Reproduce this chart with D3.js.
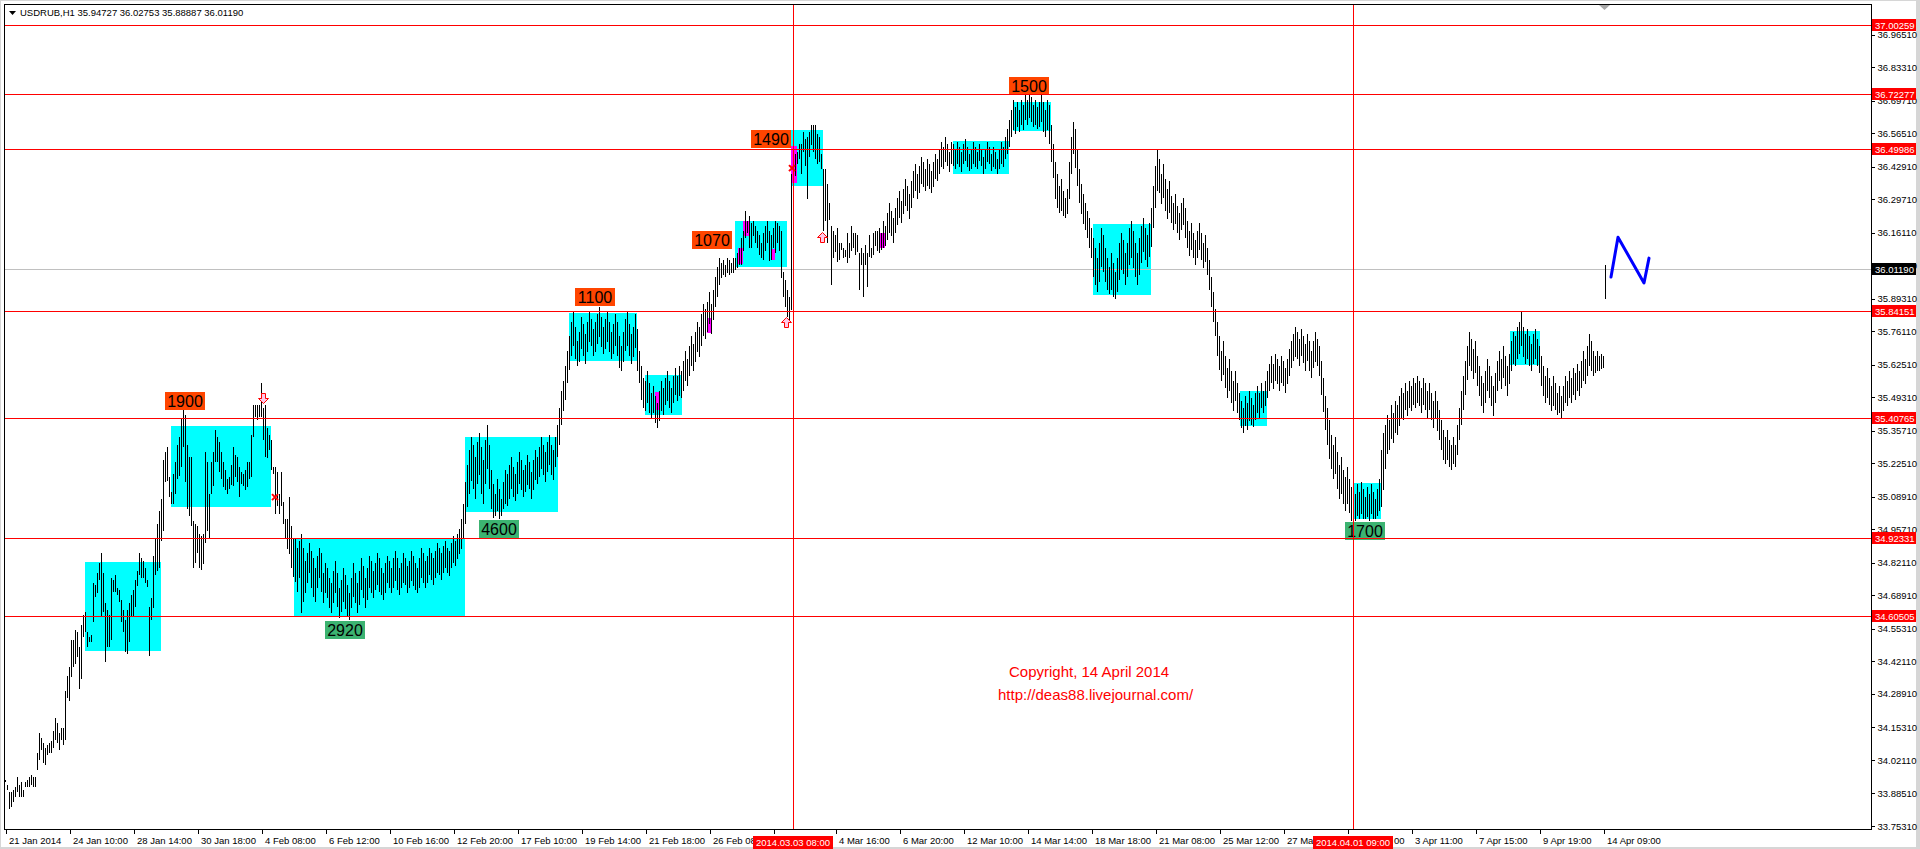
<!DOCTYPE html>
<html><head><meta charset="utf-8">
<script src="https://cdn.jsdelivr.net/npm/d3@7"></script>
<style>
html,body{margin:0;padding:0;background:#fff;overflow:hidden}
svg{display:block;font-family:"Liberation Sans",Arial,sans-serif}
</style></head><body>
<svg id="c" width="1920" height="849"></svg>
<script>
// ---- H1 bars: [high, low] per bar, bar index 0..800 ----
const barHL = [
[33.94,33.93],[33.92,33.90],[33.89,33.82],[33.89,33.83],[33.90,33.85],[33.91,33.87],[33.95,33.89],[33.92,33.87],[33.93,33.87],[33.90,33.87],
[33.93,33.91],[33.94,33.91],[33.95,33.91],[33.96,33.92],[33.95,33.91],[33.95,33.91],[34.05,33.98],[34.13,34.02],[34.11,34.06],[34.09,34.01],
[34.07,34.00],[34.08,34.04],[34.09,34.05],[34.10,34.05],[34.14,34.07],[34.19,34.10],[34.17,34.09],[34.13,34.06],[34.15,34.10],[34.15,34.08],
[34.30,34.10],[34.36,34.27],[34.40,34.26],[34.51,34.36],[34.51,34.40],[34.55,34.41],[34.54,34.44],[34.48,34.31],[34.57,34.35],[34.61,34.52],
[34.62,34.54],[34.54,34.48],[34.52,34.50],[34.53,34.50],[34.74,34.58],[34.73,34.68],[34.78,34.70],[34.82,34.75],[34.86,34.60],[34.78,34.62],
[34.66,34.42],[34.63,34.48],[34.61,34.48],[34.76,34.51],[34.75,34.70],[34.77,34.70],[34.72,34.69],[34.71,34.66],[34.67,34.58],[34.63,34.54],
[34.59,34.46],[34.63,34.45],[34.66,34.50],[34.69,34.60],[34.71,34.60],[34.75,34.64],[34.79,34.73],[34.86,34.77],[34.84,34.76],[34.83,34.76],
[34.80,34.74],[34.75,34.72],[34.64,34.44],[34.68,34.59],[34.85,34.64],[34.92,34.77],[34.98,34.79],[35.03,34.80],[35.08,34.91],[35.24,34.95],
[35.27,35.15],[35.29,35.15],[35.17,35.09],[35.11,35.06],[35.18,35.06],[35.23,35.10],[35.30,35.16],[35.33,35.17],[35.41,35.21],[35.44,35.29],
[35.42,35.15],[35.30,35.04],[35.25,35.01],[35.25,34.97],[34.99,34.80],[34.98,34.82],[34.97,34.86],[34.94,34.80],[34.93,34.79],[34.94,34.82],
[35.27,34.90],[35.23,34.95],[35.10,34.92],[35.23,35.10],[35.27,35.13],[35.36,35.23],[35.33,35.23],[35.31,35.19],[35.27,35.16],[35.23,35.13],
[35.20,35.12],[35.16,35.10],[35.17,35.12],[35.22,35.14],[35.29,35.13],[35.26,35.17],[35.25,35.15],[35.21,35.09],[35.19,35.14],[35.18,35.13],
[35.20,35.12],[35.23,35.13],[35.23,35.16],[35.34,35.17],[35.46,35.33],[35.46,35.41],[35.46,35.40],[35.46,35.41],[35.55,35.41],[35.45,35.32],
[35.46,35.25],[35.37,35.25],[35.34,35.28],[35.32,35.20],[35.21,35.18],[35.21,35.02],[35.19,35.05],[35.10,35.02],[35.19,35.05],[35.07,34.98],
[35.00,34.92],[35.00,34.88],[35.09,34.86],[34.97,34.80],[34.92,34.76],[34.92,34.74],[34.88,34.70],[34.91,34.76],[34.94,34.62],[34.88,34.66],
[34.83,34.70],[34.86,34.74],[34.90,34.78],[34.87,34.72],[34.84,34.68],[34.80,34.66],[34.85,34.72],[34.88,34.76],[34.86,34.70],[34.78,34.66],
[34.82,34.70],[34.80,34.68],[34.76,34.64],[34.74,34.62],[34.79,34.66],[34.83,34.70],[34.78,34.64],[34.72,34.60],[34.75,34.62],[34.80,34.66],
[34.77,34.63],[34.73,34.60],[34.70,34.59],[34.76,34.64],[34.82,34.68],[34.78,34.66],[34.74,34.62],[34.79,34.65],[34.84,34.71],[34.81,34.68],
[34.76,34.64],[34.80,34.67],[34.85,34.72],[34.83,34.70],[34.79,34.68],[34.82,34.71],[34.86,34.73],[34.84,34.70],[34.80,34.69],[34.78,34.67],
[34.82,34.70],[34.85,34.74],[34.83,34.72],[34.80,34.70],[34.84,34.72],[34.87,34.75],[34.84,34.71],[34.80,34.69],[34.82,34.72],[34.86,34.74],
[34.84,34.73],[34.81,34.70],[34.83,34.72],[34.87,34.75],[34.85,34.73],[34.82,34.71],[34.80,34.70],[34.84,34.72],[34.88,34.76],[34.86,34.74],
[34.83,34.72],[34.85,34.74],[34.88,34.77],[34.86,34.75],[34.84,34.73],[34.87,34.76],[34.90,34.78],[34.88,34.77],[34.86,34.75],[34.89,34.78],
[34.91,34.80],[34.88,34.78],[34.87,34.77],[34.90,34.80],[34.93,34.82],[34.91,34.81],[34.94,34.84],[34.96,34.86],[35.00,34.88],[35.06,34.92],
[35.15,34.98],[35.22,35.05],[35.28,35.10],[35.33,35.15],[35.30,35.12],[35.25,35.08],[35.31,35.14],[35.35,35.18],[35.29,35.10],[35.24,35.06],
[35.32,35.14],[35.38,35.20],[35.30,35.12],[35.20,35.04],[35.14,35.00],[35.10,35.01],[35.16,35.03],[35.12,35.00],[35.08,35.01],[35.15,35.04],
[35.20,35.06],[35.18,35.05],[35.22,35.08],[35.25,35.12],[35.21,35.09],[35.18,35.07],[35.23,35.10],[35.27,35.14],[35.24,35.12],[35.20,35.09],
[35.22,35.11],[35.26,35.14],[35.23,35.12],[35.19,35.08],[35.24,35.12],[35.28,35.16],[35.25,35.14],[35.29,35.17],[35.33,35.20],[35.30,35.18],
[35.27,35.15],[35.31,35.19],[35.34,35.22],[35.30,35.18],[35.28,35.16],[35.33,35.21],[35.38,35.25],[35.45,35.30],[35.52,35.38],[35.56,35.44],
[35.62,35.48],[35.68,35.55],[35.74,35.60],[35.80,35.66],[35.84,35.70],[35.78,35.65],[35.72,35.62],[35.76,35.64],[35.82,35.69],[35.79,35.66],
[35.75,35.63],[35.80,35.68],[35.84,35.72],[35.81,35.70],[35.77,35.66],[35.80,35.68],[35.83,35.71],[35.86,35.74],[35.82,35.70],[35.78,35.67],
[35.81,35.69],[35.84,35.72],[35.80,35.68],[35.76,35.65],[35.79,35.67],[35.83,35.70],[35.80,35.66],[35.74,35.61],[35.70,35.60],[35.76,35.64],
[35.81,35.68],[35.84,35.70],[35.79,35.66],[35.75,35.63],[35.78,35.66],[35.83,35.69],[35.77,35.60],[35.68,35.55],[35.62,35.48],[35.57,35.45],
[35.56,35.44],[35.60,35.47],[35.55,35.43],[35.51,35.41],[35.54,35.43],[35.50,35.39],[35.47,35.37],[35.52,35.40],[35.56,35.44],[35.53,35.42],
[35.57,35.46],[35.60,35.48],[35.56,35.45],[35.53,35.43],[35.58,35.47],[35.61,35.50],[35.58,35.48],[35.62,35.50],[35.60,35.49],[35.64,35.52],
[35.68,35.56],[35.65,35.54],[35.70,35.58],[35.74,35.62],[35.71,35.60],[35.76,35.64],[35.80,35.68],[35.78,35.66],[35.83,35.70],[35.87,35.74],
[35.85,35.73],[35.88,35.76],[35.92,35.79],[35.87,35.75],[35.93,35.81],[35.98,35.86],[36.02,35.90],[36.06,35.95],[36.04,35.98],[36.05,35.99],
[36.03,35.98],[36.06,36.00],[36.05,35.99],[36.04,36.00],[36.06,36.00],[36.06,36.01],[36.08,36.02],[36.10,36.03],[36.14,36.03],[36.17,36.09],
[36.25,36.14],[36.21,36.16],[36.23,36.10],[36.20,36.10],[36.21,36.15],[36.19,36.12],[36.17,36.10],[36.15,36.07],[36.12,36.06],[36.16,36.05],
[36.19,36.09],[36.21,36.12],[36.17,36.05],[36.15,36.05],[36.18,36.10],[36.21,36.08],[36.20,36.12],[36.19,36.09],[36.17,35.98],[36.00,35.90],
[35.97,35.86],[35.93,35.82],[35.90,35.80],[36.40,35.85],[36.51,36.36],[36.48,36.39],[36.49,36.44],[36.52,36.46],[36.52,36.40],[36.57,36.49],
[36.54,36.43],[36.55,36.30],[36.57,36.47],[36.60,36.52],[36.60,36.49],[36.60,36.46],[36.56,36.44],[36.55,36.45],[36.48,36.42],[36.42,36.17],
[36.42,36.21],[36.36,36.12],[36.28,36.21],[36.19,35.95],[36.17,36.06],[36.15,36.08],[36.18,36.04],[36.12,36.05],[36.12,36.09],[36.10,36.06],
[36.09,36.06],[36.16,36.04],[36.12,36.06],[36.19,36.09],[36.16,36.10],[36.16,36.07],[36.15,36.08],[36.08,35.93],[36.10,36.03],[36.08,35.90],
[36.11,36.03],[36.08,35.94],[36.15,36.06],[36.10,36.06],[36.16,36.07],[36.17,36.11],[36.17,36.09],[36.18,36.08],[36.16,36.09],[36.21,36.10],
[36.19,36.11],[36.24,36.13],[36.28,36.16],[36.25,36.15],[36.22,36.12],[36.26,36.16],[36.30,36.19],[36.33,36.22],[36.29,36.20],[36.34,36.24],
[36.38,36.27],[36.35,36.25],[36.32,36.22],[36.37,36.26],[36.41,36.30],[36.44,36.33],[36.40,36.30],[36.43,36.32],[36.47,36.36],[36.45,36.35],
[36.42,36.33],[36.46,36.35],[36.44,36.34],[36.41,36.32],[36.45,36.35],[36.48,36.38],[36.46,36.37],[36.50,36.40],[36.53,36.43],[36.51,36.42],
[36.55,36.45],[36.52,36.43],[36.49,36.41],[36.53,36.44],[36.52,36.43],[36.50,36.42],[36.53,36.44],[36.51,36.43],[36.49,36.41],[36.52,36.44],
[36.54,36.45],[36.51,36.43],[36.48,36.41],[36.50,36.42],[36.53,36.44],[36.51,36.43],[36.49,36.42],[36.52,36.45],[36.50,36.43],[36.47,36.40],
[36.50,36.42],[36.53,36.45],[36.51,36.44],[36.48,36.41],[36.51,36.43],[36.49,36.42],[36.46,36.40],[36.50,36.42],[36.53,36.44],[36.51,36.43],
[36.55,36.46],[36.58,36.48],[36.62,36.51],[36.66,36.55],[36.70,36.58],[36.67,36.56],[36.69,36.59],[36.66,36.57],[36.70,36.60],[36.68,36.58],
[36.72,36.62],[36.70,36.60],[36.73,36.63],[36.71,36.61],[36.68,36.59],[36.70,36.60],[36.67,36.58],[36.69,36.59],[36.72,36.61],[36.69,36.57],
[36.66,36.55],[36.70,36.58],[36.68,36.52],[36.60,36.45],[36.52,36.38],[36.45,36.30],[36.40,36.26],[36.35,36.24],[36.38,36.25],[36.33,36.23],
[36.30,36.22],[36.34,36.24],[36.45,36.30],[36.55,36.40],[36.61,36.48],[36.58,36.42],[36.50,36.35],[36.42,36.28],[36.36,36.24],[36.32,36.20],
[36.28,36.17],[36.25,36.14],[36.22,36.10],[36.18,36.06],[36.14,35.98],[36.10,35.95],[36.06,35.92],[36.12,35.96],[36.18,36.02],[36.15,36.00],
[36.10,35.96],[36.06,35.93],[36.02,35.91],[36.08,35.93],[36.04,35.90],[36.00,35.89],[36.06,35.92],[36.12,35.97],[36.16,36.01],[36.13,35.99],
[36.08,35.95],[36.12,35.98],[36.18,36.03],[36.21,36.06],[36.17,36.02],[36.12,35.98],[36.08,35.95],[36.14,35.99],[36.19,36.04],[36.22,36.08],
[36.18,36.05],[36.15,36.02],[36.20,36.06],[36.26,36.10],[36.35,36.18],[36.43,36.26],[36.50,36.33],[36.46,36.32],[36.40,36.28],[36.44,36.30],
[36.38,36.25],[36.34,36.22],[36.37,36.24],[36.31,36.20],[36.28,36.17],[36.32,36.20],[36.27,36.16],[36.24,36.13],[36.28,36.17],[36.30,36.19],
[36.26,36.14],[36.21,36.10],[36.17,36.07],[36.20,36.09],[36.16,36.06],[36.13,36.03],[36.17,36.06],[36.20,36.09],[36.16,36.05],[36.12,36.02],
[36.15,36.04],[36.10,35.99],[36.05,35.93],[35.98,35.86],[35.92,35.80],[35.85,35.74],[35.80,35.66],[35.74,35.60],[35.68,35.56],[35.72,35.58],
[35.66,35.53],[35.61,35.49],[35.65,35.52],[35.60,35.47],[35.56,35.44],[35.60,35.48],[35.55,35.43],[35.51,35.40],[35.48,35.37],[35.45,35.35],
[35.50,35.38],[35.47,35.36],[35.52,35.40],[35.49,35.38],[35.46,35.37],[35.51,35.40],[35.54,35.43],[35.51,35.41],[35.55,35.45],[35.52,35.43],
[35.56,35.46],[35.60,35.49],[35.63,35.52],[35.66,35.55],[35.63,35.53],[35.67,35.56],[35.65,35.55],[35.62,35.52],[35.66,35.55],[35.64,35.54],
[35.61,35.51],[35.65,35.55],[35.69,35.58],[35.72,35.61],[35.75,35.64],[35.78,35.66],[35.76,35.65],[35.73,35.62],[35.77,35.66],[35.74,35.63],
[35.71,35.60],[35.75,35.64],[35.72,35.60],[35.68,35.57],[35.72,35.61],[35.76,35.64],[35.73,35.62],[35.70,35.58],[35.64,35.50],[35.57,35.43],
[35.50,35.36],[35.45,35.30],[35.40,35.24],[35.34,35.20],[35.30,35.16],[35.33,35.18],[35.27,35.12],[35.22,35.08],[35.25,35.10],[35.20,35.06],
[35.17,35.03],[35.21,35.06],[35.16,35.02],[35.13,34.99],[35.12,35.00],[35.10,34.99],[35.14,35.01],[35.11,35.00],[35.15,35.02],[35.12,35.00],
[35.09,35.00],[35.13,35.01],[35.10,34.99],[35.14,35.02],[35.11,35.00],[35.08,35.00],[35.12,35.01],[35.16,35.03],[35.28,35.05],[35.35,35.12],
[35.38,35.20],[35.42,35.26],[35.40,35.28],[35.46,35.32],[35.43,35.31],[35.48,35.35],[35.46,35.34],[35.50,35.38],[35.53,35.41],[35.51,35.40],
[35.55,35.44],[35.52,35.42],[35.56,35.45],[35.54,35.44],[35.57,35.46],[35.55,35.45],[35.58,35.47],[35.56,35.46],[35.53,35.43],[35.57,35.46],
[35.55,35.44],[35.52,35.41],[35.55,35.44],[35.51,35.40],[35.48,35.37],[35.52,35.41],[35.48,35.36],[35.44,35.32],[35.40,35.28],[35.36,35.24],
[35.33,35.22],[35.36,35.24],[35.32,35.21],[35.30,35.20],[35.33,35.22],[35.30,35.21],[35.38,35.26],[35.45,35.32],[35.52,35.38],[35.58,35.44],
[35.64,35.50],[35.70,35.56],[35.76,35.62],[35.73,35.60],[35.69,35.57],[35.72,35.59],[35.66,35.54],[35.62,35.50],[35.58,35.46],[35.55,35.43],
[35.60,35.47],[35.65,35.52],[35.62,35.49],[35.58,35.46],[35.54,35.42],[35.59,35.47],[35.64,35.52],[35.68,35.56],[35.65,35.53],[35.70,35.57],
[35.66,35.54],[35.62,35.50],[35.67,35.55],[35.72,35.60],[35.76,35.63],[35.74,35.62],[35.78,35.65],[35.80,35.67],[35.84,35.70],[35.78,35.66],
[35.75,35.63],[35.77,35.65],[35.74,35.62],[35.71,35.60],[35.75,35.63],[35.77,35.65],[35.73,35.62],[35.70,35.59],[35.66,35.54],[35.62,35.50],
[35.58,35.47],[35.61,35.49],[35.57,35.46],[35.54,35.44],[35.58,35.46],[35.55,35.44],[35.51,35.42],[35.54,35.43],[35.50,35.41],[35.54,35.44],
[35.58,35.47],[35.56,35.46],[35.60,35.49],[35.57,35.47],[35.61,35.50],[35.59,35.48],[35.63,35.52],[35.60,35.50],[35.64,35.53],[35.68,35.56],
[35.65,35.55],[35.70,35.58],[35.75,35.62],[35.72,35.60],[35.68,35.58],[35.66,35.59],[35.68,35.60],[35.66,35.60],[35.67,35.61],[35.66,35.61],
[36.03,35.89]
];

// ---- levels / axes ----
const hLevels = [37.00259, 36.72277, 36.49986, 35.84151, 35.40765, 34.92331, 34.60505];
const currentPrice = 36.01190;
const yTicks = [36.96510,36.83310,36.69710,36.56510,36.42910,36.29710,36.16110,36.02910,35.89310,35.76110,35.62510,35.49310,35.35710,
  35.22510,35.08910,34.95710,34.82110,34.68910,34.55310,34.42110,34.28910,34.15310,34.02110,33.88510,33.75310];
const xTickIdx = [0,32,64,96,128,160,192,224,256,288,320,352,384,415,447,479,511,543,575,607,639,671,703,735,767,799];
// visible parts of the time labels (parts hidden behind the red date boxes are left out)
const xTickLabels = ["21 Jan 2014","24 Jan 10:00","28 Jan 14:00","30 Jan 18:00","4 Feb 08:00","6 Feb 12:00","10 Feb 16:00",
  "12 Feb 20:00","17 Feb 10:00","19 Feb 14:00","21 Feb 18:00","26 Feb 08:","","4 Mar 16:00","6 Mar 20:00",
  "12 Mar 10:00","14 Mar 14:00","18 Mar 18:00","21 Mar 08:00","25 Mar 12:00","27 Mar","00","3 Apr 11:00",
  "7 Apr 15:00","9 Apr 19:00","14 Apr 09:00"];
const xTickTextDx = [3,3,3,3,3,3,3,3,3,3,3,3,3,3,3,3,3,3,3,3,3,46,3,3,3,3];
const vLineIdx = [394, 674];
const vLineLabels = ["2014.03.03 08:00", "2014.04.01 09:00"];
const titleText = "USDRUB,H1  35.94727 36.02753 35.88887 36.01190";

// ---- cyan zones ----
const boxFrom = [40, 83, 144.5, 230, 282, 320, 365, 393, 474, 504, 544, 617.5, 674, 752.5];
const boxTo   = [78, 133, 230, 276.5, 316, 338.5, 391, 409, 502, 523, 573, 631, 688, 767.5];
const boxTop  = [34.824, 35.377, 34.92331, 35.332, 35.835, 35.584, 36.208, 36.578, 36.533, 36.692, 36.196, 35.519, 35.145, 35.762];
const boxBot  = [34.463, 35.048, 34.60505, 35.027, 35.640, 35.421, 36.022, 36.351, 36.398, 36.574, 35.908, 35.377, 35.000, 35.624];

// ---- magenta marks ----
const magFrom = [325, 351, 366.5, 369, 383, 393, 437.5];
const magTo   = [327.5, 353.5, 369, 372, 385, 396, 440];
const magTop  = [35.514, 35.815, 36.099, 36.208, 36.095, 36.513, 36.16];
const magBot  = [35.441, 35.754, 36.034, 36.147, 36.050, 36.363, 36.10];

// ---- number tags ----
const tagIdx   = [90, 170, 247, 295, 353.5, 383, 512, 680];
const tagTop   = [35.514, 34.585, 34.995, 35.937, 36.166, 36.578, 36.793, 34.987];
const tagText  = ["1900", "2920", "4600", "1100", "1070", "1490", "1500", "1700"];
const tagColor = ["#FF4500", "#3CB371", "#3CB371", "#FF4500", "#FF4500", "#FF4500", "#FF4500", "#3CB371"];

// ---- arrows, crosses, forecast path ----
const arrowIdx = [129, 390.5, 408.5];
const arrowPrice = [35.49, 35.80, 36.145];
const arrowDir = ["down", "up", "up"];
const crossIdx = [135, 393.5];
const crossPrice = [35.088, 36.423];
const nIdx = [803, 806.5, 819.5, 822];
const nPrice = [35.981, 36.143, 35.957, 36.058];

const svg = d3.select("#c");
const W = 1920, H = 849;
const L = 4, R = 1871, T = 4, B = 829;

const x = d3.scaleLinear().domain([0, 800]).range([5, 1605]);
const y = d3.scaleLinear().domain([33.7531, 36.9651]).range([826, 34.6]);

// window frame
svg.append("rect").attr("width", W).attr("height", H).attr("fill", "#D6D6D6");
svg.append("rect").attr("x", 1).attr("y", 1).attr("width", 1915).attr("height", 846).attr("fill", "#fff");

svg.append("clipPath").attr("id", "clip").append("rect")
  .attr("x", L + 1).attr("y", T + 1).attr("width", R - L - 1).attr("height", B - T - 1);
const g = svg.append("g").attr("clip-path", "url(#clip)").attr("shape-rendering", "crispEdges");

// cyan boxes
g.selectAll(".box").data(boxFrom).join("rect")
  .attr("x", (d, i) => Math.round(x(d)))
  .attr("width", (d, i) => Math.round(x(boxTo[i]) - x(d)))
  .attr("y", (d, i) => Math.round(y(boxTop[i])))
  .attr("height", (d, i) => Math.round(y(boxBot[i]) - y(boxTop[i])))
  .attr("fill", "#00FFFF");

// magenta marks
g.selectAll(".mag").data(magFrom).join("rect")
  .attr("x", (d, i) => Math.round(x(d)))
  .attr("width", (d, i) => Math.max(4, Math.round(x(magTo[i]) - x(d))))
  .attr("y", (d, i) => Math.round(y(magTop[i])))
  .attr("height", (d, i) => Math.round(y(magBot[i]) - y(magTop[i])))
  .attr("fill", "#FF00FF");

// current price line (behind bars)
g.append("line").attr("x1", L).attr("x2", R)
  .attr("y1", Math.round(y(currentPrice)) + 0.5).attr("y2", Math.round(y(currentPrice)) + 0.5)
  .attr("stroke", "#C0C0C0").attr("stroke-width", 1);

// bars
g.selectAll(".bar").data(barHL).join("rect")
  .attr("x", (d, i) => Math.round(x(i)))
  .attr("width", 1)
  .attr("y", d => Math.round(y(d[0])))
  .attr("height", d => Math.max(1, Math.round(y(d[1]) - y(d[0]))))
  .attr("fill", "#000");

// number tags
const tg = g.selectAll(".tag").data(tagText).join("g");
tg.append("rect")
  .attr("x", (d, i) => Math.round(x(tagIdx[i]) - 20))
  .attr("y", (d, i) => Math.round(y(tagTop[i])))
  .attr("width", 40).attr("height", 18)
  .attr("fill", (d, i) => tagColor[i]);
tg.append("text")
  .attr("x", (d, i) => x(tagIdx[i]))
  .attr("y", (d, i) => Math.round(y(tagTop[i])) + 15)
  .attr("text-anchor", "middle").attr("font-size", "16px").attr("fill", "#000")
  .text(d => d);

// horizontal red levels
g.selectAll(".hl").data(hLevels).join("line")
  .attr("x1", L).attr("x2", R)
  .attr("y1", d => Math.round(y(d)) + 0.5).attr("y2", d => Math.round(y(d)) + 0.5)
  .attr("stroke", "#FF0000").attr("stroke-width", 1);

// vertical red lines
g.selectAll(".vl").data(vLineIdx).join("line")
  .attr("x1", d => x(d) + 0.5).attr("x2", d => x(d) + 0.5)
  .attr("y1", T).attr("y2", B)
  .attr("stroke", "#FF0000").attr("stroke-width", 1);

// arrows
const ga = svg.append("g").attr("clip-path", "url(#clip)");
arrowIdx.forEach((d, i) => {
  const cx = Math.round(x(d)) + 0.5, cy = Math.round(y(arrowPrice[i])) + 0.5;
  const s = arrowDir[i] === "down" ? 1 : -1;
  const p = `M${cx - 2},${cy - 5 * s} L${cx + 2},${cy - 5 * s} L${cx + 2},${cy} L${cx + 5},${cy} L${cx},${cy + 5 * s} L${cx - 5},${cy} L${cx - 2},${cy} Z`;
  ga.append("path").attr("d", p).attr("fill", "#FFC8E8").attr("stroke", "#FF0000").attr("stroke-width", 1);
});
crossIdx.forEach((d, i) => {
  const cx = x(d), cy = y(crossPrice[i]);
  ga.append("path").attr("d", `M${cx - 3},${cy - 3} L${cx + 3},${cy + 3} M${cx + 3},${cy - 3} L${cx - 3},${cy + 3}`)
    .attr("stroke", "#FF0000").attr("stroke-width", 2);
});

// blue forecast path
const line = d3.line().x((d, i) => x(nIdx[i])).y((d, i) => y(nPrice[i]));
svg.append("path").attr("d", line(nIdx)).attr("fill", "none")
  .attr("stroke", "#0000FF").attr("stroke-width", 3).attr("stroke-linejoin", "round").attr("stroke-linecap", "round");

// copyright
svg.append("text").attr("x", 1009).attr("y", 677).attr("font-size", "15px").attr("fill", "#FF0000").text("Copyright, 14 April 2014");
svg.append("text").attr("x", 998).attr("y", 700).attr("font-size", "15px").attr("fill", "#FF0000").text("http://deas88.livejournal.com/");

// border
svg.append("rect").attr("x", L + 0.5).attr("y", T + 0.5).attr("width", R - L).attr("height", B - T)
  .attr("fill", "none").attr("stroke", "#000").attr("stroke-width", 1).attr("shape-rendering", "crispEdges");

// shift marker
svg.append("path").attr("d", "M1599,5 L1610,5 L1604.5,10 Z").attr("fill", "#A8A8A8");

// title
svg.append("path").attr("d", "M9,11 L16,11 L12.5,15 Z").attr("fill", "#000");
svg.append("text").attr("x", 20).attr("y", 16).attr("font-size", "9.5px").attr("fill", "#000").text(titleText);

// y axis
const yAxis = d3.axisRight(y).tickValues(yTicks).tickSize(3).tickPadding(3).tickFormat(d => d.toFixed(5));
const gy = svg.append("g").attr("transform", `translate(${R + 0.5},0)`).call(yAxis);
gy.select(".domain").remove();
gy.selectAll("text").attr("font-size", "9.5px").attr("font-family", "Liberation Sans, Arial, sans-serif").attr("fill", "#000");
gy.selectAll("line").attr("stroke", "#000").attr("shape-rendering", "crispEdges");

// x axis
const xAxis = d3.axisBottom(x).tickValues(xTickIdx).tickSize(4).tickFormat((d, i) => xTickLabels[i]);
const gx = svg.append("g").attr("transform", `translate(0.5,${B + 0.5})`).call(xAxis);
gx.select(".domain").remove();
gx.selectAll("text").attr("font-size", "9.5px").attr("font-family", "Liberation Sans, Arial, sans-serif")
  .attr("fill", "#000").attr("text-anchor", "start").attr("x", (d, i) => xTickTextDx[i]).attr("y", 8);
gx.selectAll("line").attr("stroke", "#000").attr("shape-rendering", "crispEdges");

// right-axis level labels
const lv = svg.append("g");
hLevels.forEach(v => {
  const yy = Math.round(y(v));
  lv.append("rect").attr("x", R + 1).attr("y", yy - 6).attr("width", 44).attr("height", 12).attr("fill", "#FF0000");
  lv.append("text").attr("x", R + 4).attr("y", yy + 3.5).attr("font-size", "9.5px").attr("fill", "#fff").text(v.toFixed(5));
});
{
  const yy = Math.round(y(currentPrice));
  lv.append("rect").attr("x", R + 1).attr("y", yy - 6).attr("width", 44).attr("height", 12).attr("fill", "#000");
  lv.append("text").attr("x", R + 4).attr("y", yy + 3.5).attr("font-size", "9.5px").attr("fill", "#fff").text(currentPrice.toFixed(5));
}

// date labels of vertical lines
vLineIdx.forEach((d, i) => {
  const cx = x(d);
  svg.append("rect").attr("x", cx - 40).attr("y", 836).attr("width", 80).attr("height", 13).attr("fill", "#FF0000");
  svg.append("text").attr("x", cx).attr("y", 846).attr("text-anchor", "middle").attr("font-size", "9.5px")
    .attr("fill", "#fff").text(vLineLabels[i]);
});
</script>
</body></html>
